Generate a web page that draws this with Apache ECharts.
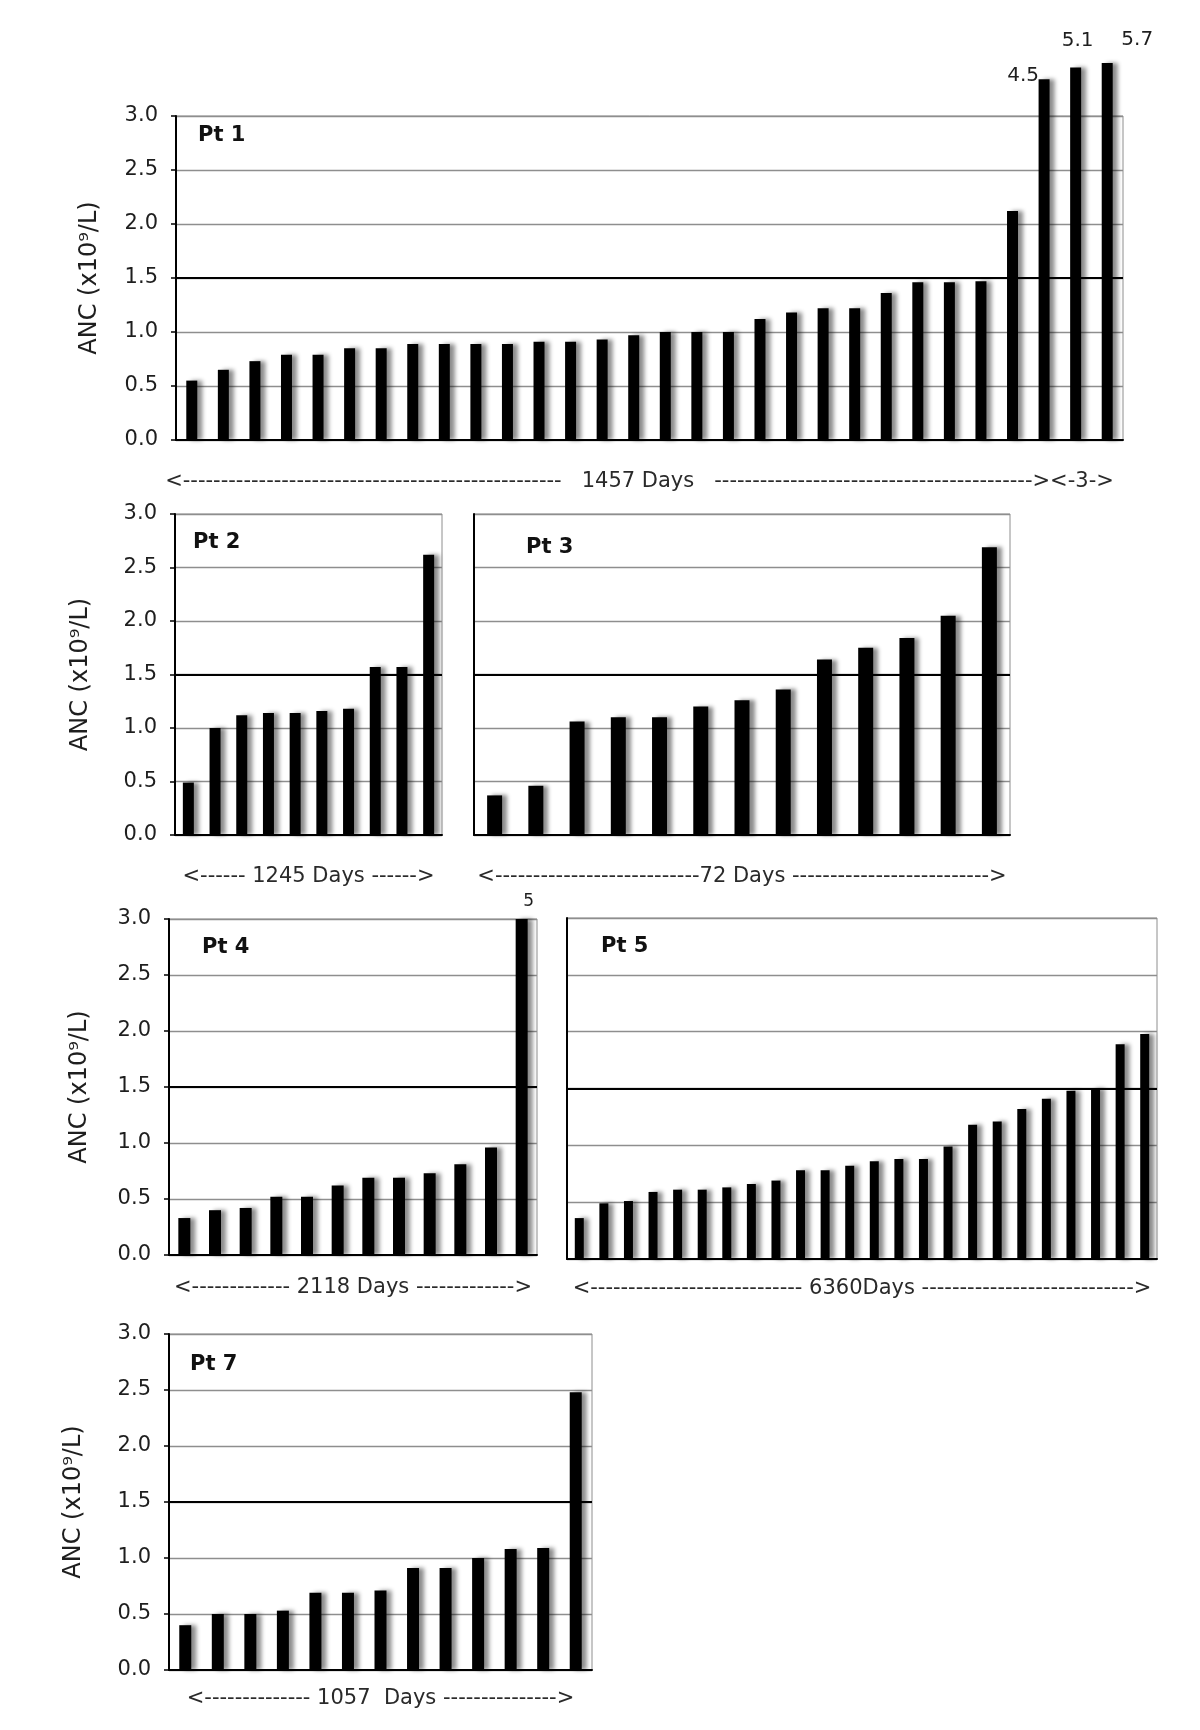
<!DOCTYPE html>
<html><head><meta charset="utf-8">
<script src="https://cdn.jsdelivr.net/npm/echarts@6/dist/echarts.min.js"></script>
<style>html,body{margin:0;padding:0;background:#fff}#c{width:1200px;height:1730px}</style>
</head><body><div id="c"></div>
<script>
// ---------- data ----------
const yTickLabels = ['0.0', '0.5', '1.0', '1.5', '2.0', '2.5', '3.0'];
const yMin = 0, yMax = 3.0, yStep = 0.5;
const threshold = 1.5;
const yTitle = 'ANC (x10⁹/L)';

const panelNames = ['Pt 1', 'Pt 2', 'Pt 3', 'Pt 4', 'Pt 5', 'Pt 7'];

const pt1Values = [0.55, 0.65, 0.73, 0.79, 0.79, 0.85, 0.85, 0.89, 0.89, 0.89, 0.89, 0.91, 0.91, 0.93, 0.97,
                   1.00, 1.00, 1.00, 1.12, 1.18, 1.22, 1.22, 1.36, 1.46, 1.46, 1.47, 2.12, 4.5, 5.1, 5.7];
// drawn heights of the three off-scale bars of Pt 1 (broken above the 3.0 frame)
const pt1BreakHeights = [3.34, 3.45, 3.49];
const pt2Values = [0.49, 1.00, 1.12, 1.14, 1.14, 1.16, 1.18, 1.57, 1.57, 2.62];
const pt3Values = [0.37, 0.46, 1.06, 1.10, 1.10, 1.20, 1.26, 1.36, 1.64, 1.75, 1.84, 2.05, 2.69];
const pt4Values = [0.33, 0.40, 0.42, 0.52, 0.52, 0.62, 0.69, 0.69, 0.73, 0.81, 0.96, 5];
const pt5Values = [0.36, 0.49, 0.51, 0.59, 0.61, 0.61, 0.63, 0.66, 0.69, 0.78, 0.78, 0.82,
                   0.86, 0.88, 0.88, 0.99, 1.18, 1.21, 1.32, 1.41, 1.48, 1.50, 1.89, 1.98];
const pt7Values = [0.40, 0.50, 0.50, 0.53, 0.69, 0.69, 0.71, 0.91, 0.91, 1.00, 1.08, 1.09, 2.48];

const dayLabels = [
  '<' + '-'.repeat(50) + '   1457 Days   ' + '-'.repeat(42) + '><-3->',
  '<------ 1245 Days ------>',
  '<' + '-'.repeat(27) + '72 Days ' + '-'.repeat(26) + '>',
  '<' + '-'.repeat(13) + ' 2118 Days ' + '-'.repeat(13) + '>',
  '<' + '-'.repeat(28) + ' 6360Days ' + '-'.repeat(28) + '>',
  '<' + '-'.repeat(14) + ' 1057  Days ' + '-'.repeat(15) + '>'
];

const allValues = [pt1Values, pt2Values, pt3Values, pt4Values, pt5Values, pt7Values];

// ---------- layout / style ----------
const layout = [
  {left: 176, top: 116, width: 947, height: 324, yLabels: true,  barW: 11, titleGap: 74, nameGap: 31, namePad: [0, 20, 0, 0], pt: [198, 125]},
  {left: 175, top: 514, width: 267, height: 321, yLabels: true,  barW: 11, titleGap: 82, nameGap: 31, namePad: 0, pt: [193, 532]},
  {left: 474, top: 514, width: 536, height: 321, yLabels: false, barW: 15, titleGap: 0,  nameGap: 31, namePad: 0, pt: [526, 537]},
  {left: 169, top: 919, width: 368, height: 336, yLabels: true,  barW: 12, titleGap: 77, nameGap: 22, namePad: 0, pt: [202, 937]},
  {left: 567, top: 918, width: 590, height: 341, yLabels: false, barW: 9,  titleGap: 0,  nameGap: 19, namePad: 0, pt: [601, 936]},
  {left: 169, top: 1334, width: 423, height: 336, yLabels: true, barW: 12, titleGap: 83, nameGap: 18, namePad: 0, pt: [190, 1354]}
];
const breakLabelOffsets = [[-21, 12], [2, -12], [30, -8]];
const font = 'DejaVu Sans';
const gridGray = '#8e8e8e';

const grids = [], xAxes = [], yAxes = [], series = [], titles = [];

allValues.forEach((vals, p) => {
  const L = layout[p];
  grids.push({left: L.left, top: L.top, width: L.width, height: L.height,
              show: true, borderColor: gridGray, borderWidth: 1, backgroundColor: '#fff'});
  xAxes.push({
    type: 'category', gridIndex: p, data: vals.map((_, i) => String(i + 1)),
    axisLine: {show: true, lineStyle: {color: '#000', width: 2}},
    axisTick: {show: false}, axisLabel: {show: false}, splitLine: {show: false},
    name: dayLabels[p], nameLocation: 'middle', nameGap: L.nameGap,
    nameTextStyle: {fontFamily: font, fontSize: 21, color: '#2a2a2a', padding: L.namePad}
  });
  yAxes.push({
    type: 'value', gridIndex: p, min: yMin, max: yMax, interval: yStep,
    axisLine: {show: true, onZero: false, lineStyle: {color: '#000', width: 2}},
    axisTick: {show: L.yLabels, length: 5, lineStyle: {color: '#000', width: 1.5}},
    axisLabel: {show: L.yLabels, margin: 18, fontFamily: font, fontSize: 21, color: '#1e1e1e',
                formatter: (v) => yTickLabels[Math.round((v - yMin) / yStep)]},
    splitLine: {show: true, lineStyle: {color: gridGray, width: 1.3}},
    name: L.yLabels ? yTitle : '', nameLocation: 'middle', nameRotate: 90, nameGap: L.titleGap,
    nameTextStyle: {fontFamily: font, fontSize: 24, color: '#1e1e1e'}
  });

  let brk = 0;
  const data = vals.map((v) => {
    if (p === 0 && v > yMax) {
      const k = brk++;
      return {value: pt1BreakHeights[k],
              label: {show: true, position: 'top', formatter: String(v), offset: breakLabelOffsets[k],
                      fontFamily: font, fontSize: 20, color: '#1e1e1e'}};
    }
    if (v > yMax) {
      return {value: v, label: {show: true, position: 'top', formatter: String(v), offset: [7, -4],
                                fontFamily: font, fontSize: 17, color: '#1e1e1e'}};
    }
    return v;
  });

  series.push({
    type: 'bar', xAxisIndex: p, yAxisIndex: p, data: data,
    barWidth: L.barW, clip: p !== 0,
    itemStyle: {color: '#000', shadowColor: 'rgba(0,0,0,0.45)', shadowBlur: 4, shadowOffsetX: 5, shadowOffsetY: 0},
    emphasis: {disabled: true},
    markLine: {silent: true, symbol: 'none', data: [{yAxis: threshold}],
               lineStyle: {color: '#000', width: 2, type: 'solid'}, label: {show: false}}
  });

  titles.push({text: panelNames[p], left: L.pt[0], top: L.pt[1], padding: 0,
               textStyle: {fontFamily: font, fontSize: 21, fontWeight: 'bold', color: '#111'}});
});

const chart = echarts.init(document.getElementById('c'), null, {renderer: 'canvas'});
chart.setOption({
  animation: false, backgroundColor: '#fff',
  title: titles, grid: grids, xAxis: xAxes, yAxis: yAxes, series: series
});
</script></body></html>
